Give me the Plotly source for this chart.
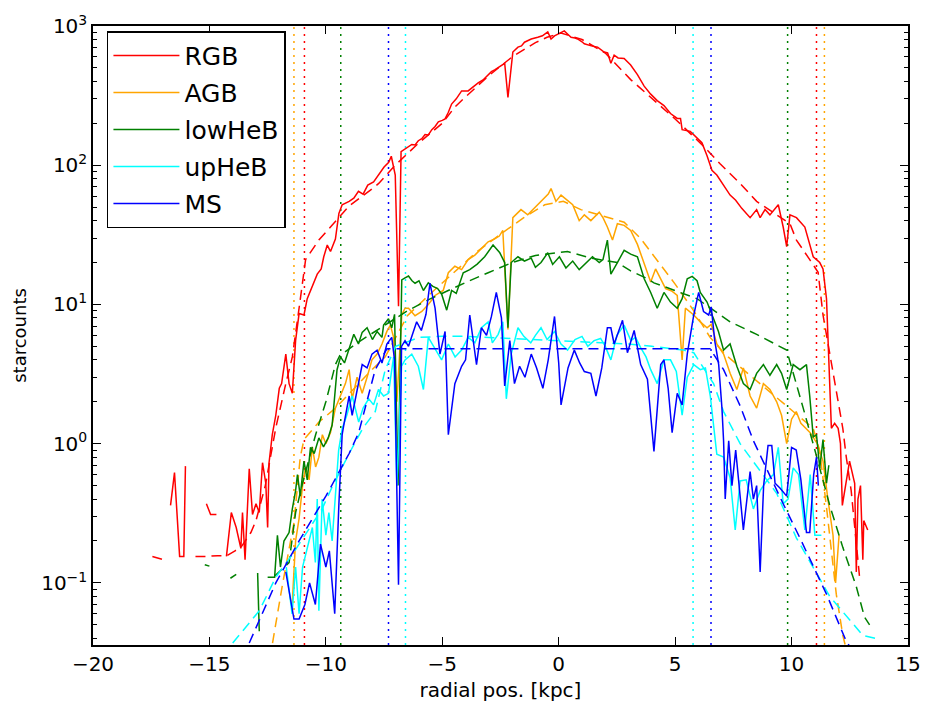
import plotly.graph_objects as go

# ---------------- data ----------------
rgb_x = [-16.67, -16.5, -16.28, -16.1, -16.03, -15.8, -15.13, -14.95, -14.7, -14.5, -14.27, -14.06, -13.85,
         -13.65, -13.58, -13.47, -13.29, -13.15, -13.0, -12.86, -12.72, -12.58, -12.5, -12.44, -12.3, -12.15,
         -12.0, -11.9, -11.72, -11.58, -11.44, -11.3, -11.15, -10.94, -10.8, -10.58, -10.37, -10.2, -10.09,
         -9.94, -9.8, -9.59, -9.44, -9.3, -9.0, -8.8, -8.6, -8.4, -8.2, -7.95, -7.73, -7.5, -7.3, -7.19, -7.02,
         -6.88, -6.77, -6.6, -6.45, -6.31, -6.17, -6.03, -5.88, -5.74, -5.6, -5.45, -5.31, -5.17, -5.0, -4.88,
         -4.74, -4.6, -4.4, -4.17, -3.89, -3.7, -3.46, -3.25, -3.03, -2.89, -2.75, -2.6, -2.46, -2.32, -2.18,
         -1.97, -1.75, -1.6, -1.47, -1.3, -1.18, -0.9, -0.7, -0.47, -0.33, -0.18, -0.04, 0.1, 0.24, 0.4, 0.53,
         0.7, 0.81, 1.0, 1.1, 1.4, 1.67, 1.95, 2.1, 2.24, 2.38, 2.55, 2.81, 3.09, 3.38, 3.67, 3.95, 4.23, 4.52,
         4.8, 5.09, 5.23, 5.3, 5.65, 5.94, 6.15, 6.37, 6.58, 6.79, 7.08, 7.36, 7.6, 7.86, 8.22, 8.5, 8.65, 8.86,
         9.07, 9.43, 9.64, 9.79, 9.93, 10.21, 10.57, 10.93, 11.21, 11.35, 11.5, 11.56, 11.64, 11.71, 11.85,
         12.0, 12.1, 12.18, 12.49, 12.71, 12.78, 12.85, 12.96, 13.06, 13.1, 13.27]
rgb_y = [0.36, 0.62, 0.155, 0.155, 0.69, None, 0.37, 0.31, 0.31, None, 0.155, 0.32, 0.25,
         0.177, 0.32, 0.147, 0.66, 0.31, 0.37, 0.32, 0.73, 0.52, 0.25, 0.73, 1.16, 1.6,
         2.5, 2.7, 4.4, 2.7, 2.3, 5.5, 8.6, 8.4, 11, 13.6, 16.5, 18, 22,
         26.7, 24, 29.5, 45, 52, 55, 58, 65, 62, 72, 76, 85, 97, 105, 116, 85,
         9.7, 125, 130, 135, 141, 140, 150, 155, 166, 165, 180, 190, 205, 210, 215,
         240, 275, 300, 342, 342, 365, 390, 410, 447, 470, 484, 505, 525, 540, 307,
         650, 705, 720, 765, 790, 807, 830, 850, 908, 807, 850, 875, 900, 923, 870, 830,
         820, 807, 770, 745, 720, 705, 650, 640, 540, 617, 590, 585, 525, 447, 370, 324, 291, 268,
         235, 217, 217, 180, 175, 157, 145, 117, 92, 85, 72, 61, 56, 49, 42, 48, 42, 48,
         44, 52, 36, 26, 44, 42, 36, 22, 20, 18, 11, 5.8, 2.45, 1.29, 1.4,
         1.29, 1.0, 0.36, 0.75, 0.52, 0.12, 0.4, 0.5, 0.147, 0.28, 0.24]

rgb_model_x = [-17.45, -17.0, -16.8, -15.6, -15.1, -14.65, -14.25, -13.9, -13.65, -13.22, -13.0, -12.6, -12.3,
               -12.15, -11.72, -11.44, -11.15, -10.87, -10.3, -9.73, -9.44, -9.0, -8.0, -7.73, -7.02, -6.53,
               -6.0, -5.0, -4.46, -4.0, -3.0, -2.0, -1.0, -0.5, 0.1, 1.0, 2.0, 3.09, 4.0, 5.0, 6.22, 6.94, 7.79,
               8.5, 9.93, 10.21, 10.78, 11.14, 11.35, 11.64, 11.92, 12.2, 12.35, 12.56, 12.92]
rgb_model_y = [0.155, 0.147, None, 0.155, 0.155, 0.157, 0.157, 0.17, 0.18, 0.23, 0.28, 0.5, 0.95,
               1.3, 2.7, 4.2, 9.4, 21, 29, 37, 42, 51, 68, 74, 100, 120,
               145, 200, 262, 310, 440, 600, 760, 830, 890, 800, 640, 412, 300, 215, 137, 102, 74,
               55, 38, 29, 21, 17, 8.4, 4.4, 2.45, 1.29, 0.8, 0.46, 0.11]

agb_x = [-11.45, -11.3, -11.15, -11.0, -10.87, -10.72, -10.58, -10.44, -10.3, -10.15, -10.0, -9.8, -9.59,
         -9.37, -9.16, -9.0, -8.87, -8.66, -8.44, -8.23, -8.02, -7.8, -7.59, -7.38, -7.23, -7.09, -6.95,
         -6.74, -6.6, -6.45, -6.17, -5.88, -5.6, -5.31, -4.96, -4.74, -4.46, -4.17, -3.89, -3.6, -3.32,
         -3.03, -2.75, -2.55, -2.4, -2.18, -1.97, -1.8, -1.62, -1.33, -1.1, -0.9, -0.61, -0.45, -0.33,
         -0.12, 0.1, 0.35, 0.6, 0.88, 1.1, 1.38, 1.74, 1.9, 2.09, 2.31, 2.52, 2.81, 3.09, 3.38, 3.67, 3.95,
         4.16, 4.38, 4.59, 4.85, 5.09, 5.3, 5.44, 5.8, 6.08, 6.37, 6.55, 6.79, 7.08, 7.36, 7.65, 7.93, 8.22,
         8.5, 8.79, 9.07, 9.36, 9.57, 9.79, 10.0, 10.2, 10.4, 10.6, 10.8, 11.1, 11.35, 11.56, 11.78, 11.89,
         12.04]
agb_y = [0.068, 0.2, 0.29, 0.5, 0.68, 0.55, 0.95, 0.68, 0.8, 1.16, 1.0, 1.2, 1.8,
         2.2, 2.7, 3.4, 2.1, 3.0, 2.3, 3.0, 4.0, 4.4, 5.2, 6.4, 7.1, 5.8, 2.0,
         8.4, 9.4, 9.4, 8.3, 8.9, 10, 11.6, 12.6, 16.9, 18.8, 17.8, 21, 22.6, 25.3,
         28.2, 29.6, 31, 34, 6.6, 42, 45, 48, 44, 48, 52, 58, 62, 68,
         55, 61, 56, 52, 40, 44, 40, 46, 42, 36, 29, 38, 37, 34, 27, 20, 14.5,
         18, 15.3, 13, 12.5, 11.6, 4.0, 9.4, 8.4, 7.5, 6.8, 7.2, 5.2, 4.4, 3.2, 2.45, 3.5, 2.2,
         1.8, 2.7, 2.45, 2.0, 1.6, 1.0, 1.5, 1.7, 1.4, 1.3, 1.2, 1.0, 0.75, 0.4, 0.22, 0.1,
         0.22]

agb_model_x = [-12.29, -11.85, -11.37, -11.1, -10.94, -10.3, -9.59, -9.0, -8.02, -7.45, -6.5, -5.5, -4.5,
               -3.5, -2.5, -1.5, -0.6, 0.2, 0.95, 2.0, 2.81, 3.5, 4.2, 5.0, 5.8, 6.5, 7.2, 7.92, 8.77, 10.07,
               10.93, 11.2, 11.5, 11.92, 12.2, 12.3]
agb_model_y = [0.037, 0.1, 0.27, 0.8, 1.07, 1.43, 1.8, 2.3, 3.4, 4.2, 8.3, 12, 17,
               24, 32, 42, 52, 55, 48, 43, 39, 30, 21, 14, 9, 5.8, 4.3, 3.4, 2.6, 1.7,
               1.29, 0.9, 0.35, 0.083, 0.042, 0.036]

lowheb_x = [-12.93, -12.86, -12.7, -12.5, -12.2, -12.08, -11.95, -11.8, -11.58, -11.44, -11.3, -11.22, -11.1,
            -10.94, -10.8, -10.66, -10.5, -10.3, -10.1, -9.9, -9.73, -9.52, -9.37, -9.2, -9.0, -8.8, -8.6,
            -8.44, -8.23, -8.0, -7.8, -7.59, -7.52, -7.31, -7.17, -7.05, -6.9, -6.74, -6.6, -6.45, -6.3, -6.17,
            -6.0, -5.81, -5.6, -5.4, -5.2, -5.03, -4.81, -4.6, -4.4, -4.1, -3.82, -3.5, -3.18, -2.82, -2.53,
            -2.32, -2.18, -2.04, -1.75, -1.47, -1.18, -1.0, -0.76, -0.47, -0.26, 0.03, 0.31, 0.6, 0.88, 1.17,
            1.45, 1.74, 1.9, 2.09, 2.24, 2.52, 2.81, 3.09, 3.38, 3.67, 3.95, 4.23, 4.52, 4.8, 5.09, 5.3, 5.52,
            5.73, 5.94, 6.08, 6.37, 6.65, 6.86, 7.08, 7.36, 7.65, 7.93, 8.22, 8.5, 8.79, 9.07, 9.36, 9.57, 9.79,
            10.07, 10.36, 10.64, 10.78, 10.93, 11.07, 11.21, 11.35, 11.5, 11.6]
lowheb_y = [0.118, 0.045, None, 0.11, 0.11, 0.22, 0.13, 0.2, 0.23, 0.34, 0.46, 0.6, 0.42,
            0.75, 0.55, 0.94, 0.85, 1.1, 0.95, 1.1, 1.36, 3.4, 4.2, 3.8, 4.9, 6.1, 5.2,
            6.3, 6.8, 5.6, 6.4, 5.8, 7.1, 7.9, 6.8, 8.5, 0.5, 15, 15.5, 16, 14.8, 14.2,
            14.8, 12.6, 14.3, 13.5, 13, 11.9, 9.1, 12.6, 12, 16.9, 17.8, 19.5, 22, 26.7, 23.5,
            20, 6.8, 20, 22, 20.5, 21.5, 18.5, 20, 23.5, 19.4, 22, 18.3, 20.5, 17.8, 20,
            22, 20, 21, 29, 16.5, 20, 24.5, 23, 22, 15.3, 12.2, 9.4, 12.2, 10.4, 9.4, 11, 15.3,
            15.9, 14.8, 12.2, 10.4, 7.9, 6.4, 4.7, 5.2, 3.6, 2.7, 2.45, 3.2, 3.7, 3.1, 3.7, 3.2, 2.45,
            3.7, 3.4, 3.7, 2.2, 1.12, 1.16, 0.67, 1.07, 0.52, 0.7]

lowheb_model_x = [-15.2, -15.0, -14.8, -14.1, -13.85, -13.6, -12.2, -11.58, -11.3, -11.0, -10.44, -10.0, -9.59,
                  -9.4, -8.5, -7.5, -6.5, -5.5, -4.5, -4.03, -3.03, -2.0, -1.0, 0.38, 1.38, 2.52, 3.09, 3.81,
                  4.09, 5.0, 5.94, 7.36, 8.5, 9.79, 10.21, 10.5, 11.0, 11.64, 12.2, 12.78, 13.13, 13.35]
lowheb_model_y = [0.135, 0.132, None, 0.108, 0.115, None, 0.112, 0.14, 0.32, 0.52, 1.16, 2.0, 3.7,
                  4.3, 5.5, 7.0, 9.0, 11, 13.2, 14.3, 16.9, 20, 22.5, 24, 21.5, 20, 17.4, 15.3,
                  14.3, 12.5, 11, 7.5, 6.1, 4.7, 2.7, 1.8, 0.9, 0.36, 0.18, 0.094, 0.057, 0.05]

upheb_x = [-11.7, -11.58, -11.45, -11.3, -11.15, -11.0, -10.87, -10.72, -10.58, -10.45, -10.37, -10.3, -10.16,
           -10.0, -9.87, -9.73, -9.59, -9.45, -9.3, -9.1, -8.87, -8.73, -8.59, -8.4, -8.16, -7.95, -7.74, -7.52,
           -7.31, -7.17, -7.09, -6.95, -6.75, -6.6, -6.31, -6.03, -5.81, -5.6, -5.3, -5.03, -4.74, -4.45, -4.17,
           -3.89, -3.6, -3.32, -3.03, -2.85, -2.6, -2.4, -2.25, -2.04, -1.75, -1.5, -1.2, -1.0, -0.76, -0.5,
           -0.18, 0.1, 0.38, 0.7, 1.0, 1.25, 1.52, 1.8, 2.0, 2.24, 2.5, 2.81, 3.1, 3.3, 3.52, 3.75, 3.95, 4.23,
           4.52, 4.8, 5.05, 5.3, 5.52, 5.8, 6.08, 6.3, 6.51, 6.65, 6.79, 7.08, 7.36, 7.58, 7.79, 8.05, 8.36,
           8.65, 8.93, 9.22, 9.43, 9.64, 9.85, 10.07, 10.3, 10.57, 10.8, 11.0, 11.28]
upheb_y = [0.13, 0.09, 0.06, 0.13, 0.06, 0.13, 0.16, 0.2, 0.25, 0.14, 0.4, 0.063, 0.4,
           0.22, 0.32, 0.2, 0.44, 0.9, 1.28, 1.6, 2.2, 1.8, 1.43, 1.8, 2.1, 1.9, 2.45, 2.2,
           2.3, 3.4, 4.2, 0.5, 3.6, 4.0, 4.4, 3.6, 2.45, 5.8, 4.8, 4.0, 5.2, 4.2, 4.7,
           5.8, 5.3, 6.8, 7.5, 5.3, 6.1, 7.5, 2.1, 4.4, 6.8, 5.9, 5.3, 6.0, 6.8, 5.6,
           6.4, 5.2, 4.7, 5.6, 5.9, 5.0, 5.5, 5.7, 5.0, 4.0, 6.0, 7.1, 5.5, 5.8, 4.9, 4.2, 3.4, 2.7,
           4.0, 4.0, 3.3, 1.6, 3.0, 3.7, 3.4, 3.5, 2.2, 1.28, 0.84, 0.8, 0.57, 0.24, 0.54, 0.55, 0.34,
           0.46, 0.54, 0.6, 0.94, 0.37, 0.4, 0.67, 0.6, 0.24, 0.6, 0.22, 0.22]

upheb_model_x = [-14.0, -12.86, -12.15, -11.44, -10.16, -9.73, -9.0, -8.4, -7.88, -7.45, -7.0, -6.0, -5.0,
                 -4.0, -3.0, -2.0, -1.0, 0.0, 1.0, 2.0, 3.0, 4.0, 5.37, 5.8, 6.2, 6.65, 7.08, 7.79, 9.36,
                 10.21, 11.64, 12.49, 13.06, 13.6]
upheb_model_y = [0.037, 0.063, 0.11, 0.16, 0.34, 0.49, 0.85, 1.3, 1.7, 3.4, 5.0, 5.8, 5.9,
                 5.9, 5.8, 5.7, 5.6, 5.5, 5.4, 5.3, 5.2, 5.0, 4.7, 4.5, 3.5, 2.7, 1.7, 1.0, 0.44,
                 0.21, 0.08, 0.054, 0.042, 0.04]

ms_x = [-11.72, -11.6, -11.45, -11.37, -11.15, -10.9, -10.7, -10.45, -10.23, -10.0, -9.85, -9.62, -9.44,
        -9.3, -9.23, -9.0, -8.87, -8.65, -8.44, -8.23, -8.02, -7.8, -7.59, -7.38, -7.17, -7.05, -6.88, -6.75,
        -6.6, -6.45, -6.31, -6.1, -5.9, -5.7, -5.53, -5.31, -5.1, -4.88, -4.74, -4.46, -4.17, -4.0, -3.82,
        -3.53, -3.32, -3.1, -2.89, -2.68, -2.46, -2.32, -2.1, -1.9, -1.68, -1.45, -1.18, -0.95, -0.68, -0.45,
        -0.18, 0.0, 0.1, 0.4, 0.67, 0.9, 1.1, 1.38, 1.6, 1.85, 2.09, 2.24, 2.38, 2.74, 2.95, 3.24, 3.52, 3.81,
        4.09, 4.38, 4.52, 4.7, 4.87, 5.09, 5.3, 5.52, 5.8, 6.01, 6.22, 6.44, 6.55, 6.7, 6.87, 7.01, 7.08,
        7.15, 7.3, 7.44, 7.6, 7.93, 8.22, 8.36, 8.5, 8.65, 8.8, 8.99, 9.15, 9.29, 9.5, 9.79, 10.0, 10.2, 10.4,
        10.64, 10.78, 10.95, 11.07, 11.15]
ms_y = [0.12, 0.09, 0.065, 0.055, 0.055, 0.07, 0.1, 0.07, 0.19, 0.13, 0.17, 0.06, 0.37,
        1.16, 1.36, 2.2, 1.6, 2.5, 3.7, 3.5, 4.4, 4.7, 3.8, 5.2, 5.8, 4.0, 0.097, 5.0,
        5.5, 5.0, 5.8, 7.5, 6.5, 8.5, 14.2, 9.4, 4.4, 6.4, 1.16, 2.7, 3.6, 4.0, 8.4,
        3.7, 6.8, 6.0, 8.2, 12.2, 8.0, 2.6, 5.5, 2.7, 3.6, 3.0, 4.4, 3.5, 2.5, 4.0,
        8.2, 3.8, 1.9, 3.5, 4.7, 3.8, 3.3, 3.2, 2.2, 3.5, 6.8, 6.8, 5.2, 7.7, 4.5, 6.5, 3.7, 2.9,
        0.88, 3.7, 4.0, 2.5, 1.2, 2.3, 1.9, 4.4, 8.4, 12.2, 8.9, 8.4, 9.6, 5.5, 3.7, 1.8, 1.05,
        0.4, 1.05, 0.5, 0.9, 0.24, 0.63, 0.4, 0.5, 0.12, 0.5, 0.97, 0.97, 0.52, 0.48, 0.42, 0.94, 0.9, 0.55,
        0.23, 0.23, 0.6, 0.8, 0.5]

ms_model_x = [-13.29, -12.15, -11.15, -10.0, -9.0, -8.59, -7.88, -7.38, 6.5, 7.08, 7.79, 8.36, 9.64, 10.36,
              11.5, 12.35, 12.5]
ms_model_y = [0.037, 0.1, 0.2, 0.42, 0.85, 1.2, 3.4, 4.8, 4.8, 3.4, 1.87, 1.05, 0.37, 0.21,
              0.083, 0.038, 0.035]

# radial cut positions (dotted verticals), per population
cut_left = {"RGB": -10.92, "AGB": -11.37, "lowHeB": -9.36, "upHeB": -6.58, "MS": -7.31}
cut_right = {"RGB": 11.07, "AGB": 11.41, "lowHeB": 9.83, "upHeB": 5.77, "MS": 6.54}

populations = ["RGB", "AGB", "lowHeB", "upHeB", "MS"]
x_ticks = [-20, -15, -10, -5, 0, 5, 10, 15]
x_ticklabels = ["\u221220", "\u221215", "\u221210", "\u22125", "0", "5", "10", "15"]
y_ticks = [0.1, 1, 10, 100, 1000]
y_ticklabels = ["10<sup>\u22121</sup>", "10<sup>0</sup>", "10<sup>1</sup>", "10<sup>2</sup>", "10<sup>3</sup>"]

# ---------------- styling ----------------
colors = {"RGB": "#ff0000", "AGB": "#ffa500", "lowHeB": "#008000", "upHeB": "#00ffff", "MS": "#0000ff"}
data = {
    "RGB": (rgb_x, rgb_y, rgb_model_x, rgb_model_y),
    "AGB": (agb_x, agb_y, agb_model_x, agb_model_y),
    "lowHeB": (lowheb_x, lowheb_y, lowheb_model_x, lowheb_model_y),
    "upHeB": (upheb_x, upheb_y, upheb_model_x, upheb_model_y),
    "MS": (ms_x, ms_y, ms_model_x, ms_model_y),
}

FONT = "DejaVu Sans"
fig = go.Figure()

for i, pop in enumerate(populations):
    xs, ys, mx, my = data[pop]
    c = colors[pop]
    fig.add_trace(go.Scatter(x=xs, y=ys, mode="lines", name=pop, legendgroup=pop,
                             line=dict(color=c, width=1.5), connectgaps=False))
    fig.add_trace(go.Scatter(x=mx, y=my, mode="lines", name=pop + " model", legendgroup=pop,
                             showlegend=False, line=dict(color=c, width=1.5, dash="10px,6px"),
                             connectgaps=False))
    for xv in (cut_left[pop], cut_right[pop]):
        fig.add_shape(type="line", x0=xv, x1=xv, y0=0, y1=1, xref="x", yref="y domain",
                      line=dict(color=c, width=1.5, dash="2px,5px"), layer="below")

minor_vals = []
for d in [0.01, 0.1, 1, 10, 100]:
    for k in range(2, 10):
        minor_vals.append(k * d)

axis_common = dict(showline=True, linecolor="black", linewidth=1.5, mirror="ticks",
                   ticks="inside", ticklen=8, tickwidth=1, tickcolor="black",
                   showgrid=False, zeroline=False,
                   tickfont=dict(family=FONT, size=20, color="black"))

fig.update_layout(
    width=933, height=710,
    margin=dict(l=93, r=21, t=20, b=52),
    paper_bgcolor="white", plot_bgcolor="white",
    font=dict(family=FONT, color="black"),
    xaxis=dict(range=[-20, 15], tickmode="array", tickvals=x_ticks, ticktext=x_ticklabels,
               title=dict(text="radial pos. [kpc]", font=dict(family=FONT, size=20), standoff=8),
               **axis_common),
    yaxis=dict(type="log", range=[-1.446, 3], tickmode="array", tickvals=y_ticks, ticktext=y_ticklabels,
               minor=dict(tickmode="array", tickvals=minor_vals, ticks="inside", ticklen=4,
                          tickwidth=1, tickcolor="black", showgrid=False),
               title=dict(text="starcounts", font=dict(family=FONT, size=18), standoff=10),
               **axis_common),
    legend=dict(x=0.0171, y=0.9915, xanchor="left", yanchor="top",
                bgcolor="white", bordercolor="black", borderwidth=1.5,
                font=dict(family=FONT, size=25, color="black"),
                itemwidth=66, tracegroupgap=1.5),
    showlegend=True,
)

fig.write_html("out.html")
